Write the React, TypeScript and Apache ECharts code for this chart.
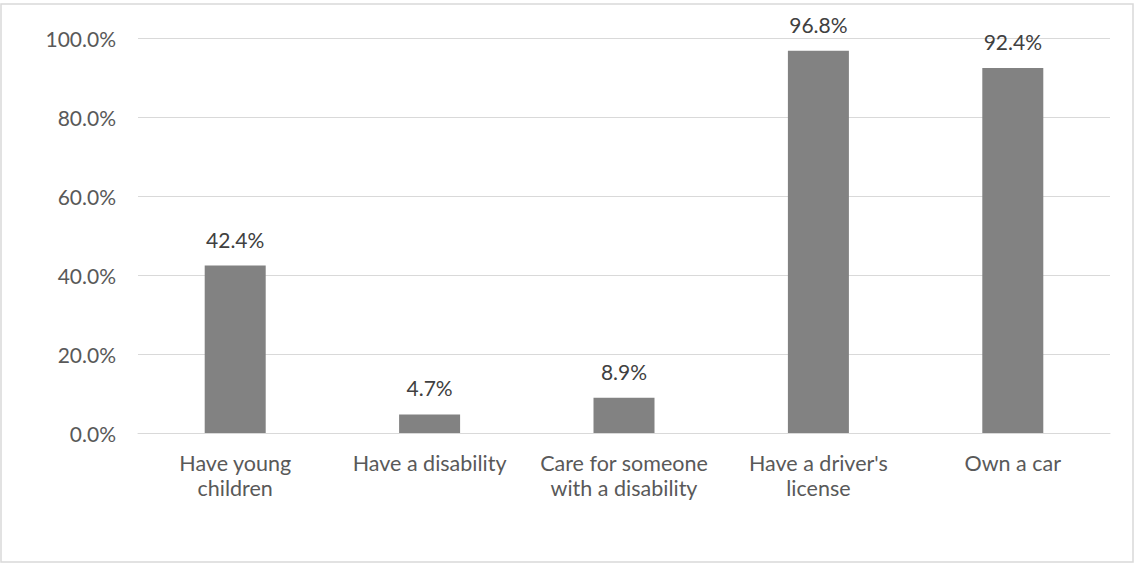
import React, { useEffect, useRef } from "react";
import * as echarts from "echarts";

const categories = [
  "Have young\nchildren",
  "Have a disability",
  "Care for someone\nwith a disability",
  "Have a driver's\nlicense",
  "Own a car",
];
const values = [42.4, 4.7, 8.9, 96.8, 92.4];
const yMin = 0;
const yMax = 100;
const yInterval = 20;

const FONT = "Lato, 'Open Sans', sans-serif";

export default function App() {
  const ref = useRef<HTMLDivElement>(null);
  useEffect(() => {
    document.body.style.margin = "0";
    const chart = echarts.init(ref.current!, undefined, { renderer: "svg" });
    chart.setOption({
      animation: false,
      backgroundColor: "#ffffff",
      graphic: [
        {
          type: "rect",
          shape: { x: 1, y: 4, width: 1132, height: 558 },
          style: { fill: "none", stroke: "#d9d9d9", lineWidth: 1.5 },
          silent: true,
        },
      ],
      grid: { left: 138, right: 26, top: 38, bottom: 130, containLabel: false },
      xAxis: {
        type: "category",
        data: categories,
        axisLine: { show: true, lineStyle: { color: "#d9d9d9", width: 1 } },
        axisTick: { show: false },
        axisLabel: {
          color: "#595959",
          fontFamily: FONT,
          fontSize: 21.5,
          lineHeight: 25,
          margin: 17,
          interval: 0,
        },
      },
      yAxis: {
        type: "value",
        min: yMin,
        max: yMax,
        interval: yInterval,
        axisLine: { show: false },
        axisTick: { show: false },
        splitLine: { lineStyle: { color: "#d9d9d9", width: 1 } },
        axisLabel: {
          color: "#595959",
          fontFamily: FONT,
          fontSize: 21,
          margin: 22,
          formatter: (v: number) => v.toFixed(1) + "%",
        },
      },
      series: [
        {
          type: "bar",
          data: values,
          barWidth: 61,
          itemStyle: { color: "#828282" },
          label: {
            show: true,
            position: "top",
            distance: 16,
            color: "#404040",
            fontFamily: FONT,
            fontSize: 21,
            formatter: (p: any) => p.value.toFixed(1) + "%",
          },
        },
      ],
    });
    return () => chart.dispose();
  }, []);
  return (
    <div
      ref={ref}
      style={{ position: "fixed", left: 0, top: 0, width: 1136, height: 563 }}
    />
  );
}
